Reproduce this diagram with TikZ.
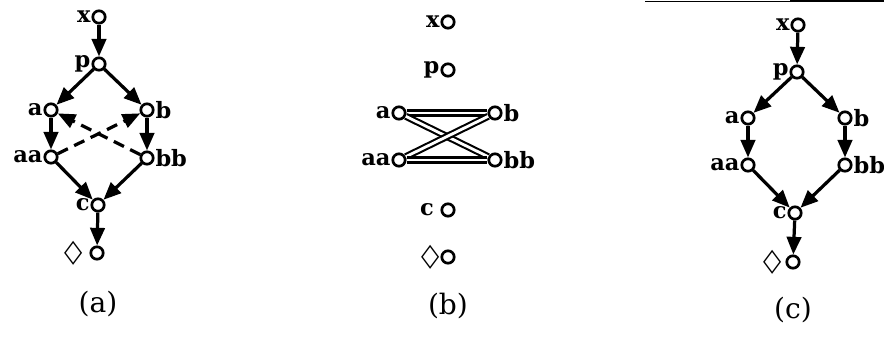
\documentclass[tikz,border=0pt]{standalone}
\usepackage{fontspec}
\setmainfont{DejaVu Serif}
\newfontfamily\symfont{DejaVu Sans}
\usetikzlibrary{arrows.meta}

\newcommand{\dmd}{{\symfont\bfseries\scalebox{1.05}[1.4]{◇}}}

\begin{document}
\begin{tikzpicture}[x=0.025cm, y=-0.025cm,
    vtx/.style={circle, draw, line width=1.9pt, minimum size=0.31cm, inner sep=0pt},
    lbl/.style={font=\fontsize{16}{18}\selectfont\bfseries, inner sep=0.5pt},
    arc/.style={line width=2.3pt, -{Triangle[length=0.44cm, width=0.36cm]}},
    dasharc/.style={arc, dash pattern=on 8pt off 5pt},
    dbl/.style={line width=1.5pt, double, double distance=2pt},
    capt/.style={font=\fontsize{20}{24}\selectfont}]
  \useasboundingbox (0,0) rectangle (884,337);
  % (a)
  \node[vtx, label={[lbl]left:x}] (xa) at (99,17) {};
  \node[vtx, label={[lbl]left:p}] (pa) at (99,64) {};
  \node[vtx, label={[lbl]left:a}] (aa1) at (51,110) {};
  \node[vtx, label={[lbl]right:b}] (ba) at (147,110) {};
  \node[vtx, label={[lbl]left:aa}] (aaa) at (51,157) {};
  \node[vtx, label={[lbl]right:bb}] (bba) at (147,158) {};
  \node[vtx, label={[lbl]left:c}] (ca) at (98,205) {};
  \node[vtx, label={[lbl, label distance=4pt]left:\dmd}] (da) at (97,253) {};
  \node[capt] (capa) at (98,304) {(a)};
  \draw[arc] (xa) -- (pa);
  \draw[arc] (pa) -- (aa1);
  \draw[arc] (pa) -- (ba);
  \draw[arc] (aa1) -- (aaa);
  \draw[arc] (ba) -- (bba);
  \draw[arc] (aaa) -- (ca);
  \draw[arc] (bba) -- (ca);
  \draw[arc] (ca) -- (da);
  \draw[dasharc] (bba) -- (aa1);
  \draw[dasharc] (aaa) -- (ba);
  % (b)
  \node[vtx, label={[lbl]left:x}] (xb) at (448,22) {};
  \node[vtx, label={[lbl]left:p}] (pb) at (448,70) {};
  \node[vtx, label={[lbl]left:a}] (ab) at (399,113) {};
  \node[vtx, label={[lbl]right:b}] (bb1) at (495,113) {};
  \node[vtx, label={[lbl]left:aa}] (aab) at (399,160) {};
  \node[vtx, label={[lbl]right:bb}] (bbb) at (495,160) {};
  \node[vtx, label={[lbl, label distance=4pt]left:c}] (cb) at (448,210) {};
  \node[vtx, label={[lbl]left:\dmd}] (db) at (448,257) {};
  \node[capt] (capb) at (448,306) {(b)};
  \draw[dbl] (ab) -- (bb1);
  \draw[dbl] (ab) -- (bbb);
  \draw[dbl] (aab) -- (bb1);
  \draw[dbl] (aab) -- (bbb);
  % (c)
  \node[vtx, label={[lbl]left:x}] (xc) at (798,25) {};
  \node[vtx, label={[lbl]left:p}] (pc) at (797,72) {};
  \node[vtx, label={[lbl]left:a}] (ac) at (748,118) {};
  \node[vtx, label={[lbl]right:b}] (bc) at (845,118) {};
  \node[vtx, label={[lbl]left:aa}] (aac) at (748,165) {};
  \node[vtx, label={[lbl]right:bb}] (bbc) at (845,165) {};
  \node[vtx, label={[lbl]left:c}] (cc) at (795,213) {};
  \node[vtx, label={[lbl, label distance=2pt]left:\dmd}] (dc) at (793,262) {};
  \node[capt] (capc) at (793,310) {(c)};
  \draw[arc] (xc) -- (pc);
  \draw[arc] (pc) -- (ac);
  \draw[arc] (pc) -- (bc);
  \draw[arc] (ac) -- (aac);
  \draw[arc] (bc) -- (bbc);
  \draw[arc] (aac) -- (cc);
  \draw[arc] (bbc) -- (cc);
  \draw[arc] (cc) -- (dc);
  % page edge
  \draw[line width=0.6pt] (645,1) -- (790,1);
  \draw[line width=1.6pt] (790,1) -- (884,1);
\end{tikzpicture}
\end{document}
